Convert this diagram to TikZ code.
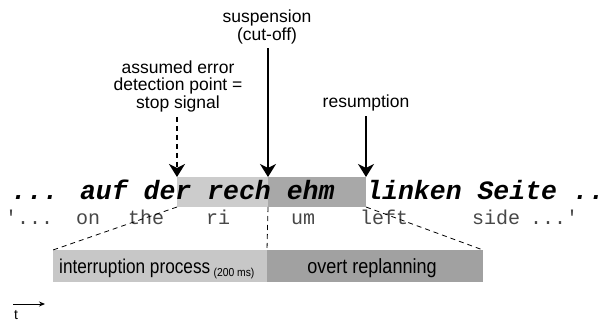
\documentclass[tikz,border=0pt]{standalone}
\usepackage{fontspec}
\setmainfont{Liberation Sans}
\newfontfamily\monofam{Liberation Mono}
\usetikzlibrary{arrows.meta}
\definecolor{hlLight}{gray}{0.80}
\definecolor{hlDark}{gray}{0.66}
\definecolor{boxLight}{gray}{0.78}
\definecolor{boxDark}{gray}{0.63}
\definecolor{glossGray}{gray}{0.28}
\begin{document}
\begin{tikzpicture}[x=1pt,y=-1pt,
  lbl/.style={font=\fontsize{17.5}{17.5}\selectfont, align=center, inner sep=0pt},
  hlrect/.style={inner sep=0pt, outer sep=0pt, minimum height=30pt, anchor=north west},
  phasebox/.style={inner sep=0pt, outer sep=0pt, minimum height=32pt, anchor=north west},
  gloss/.style={font=\monofam\fontsize{20}{24}\selectfont, text=glossGray, anchor=base west, inner sep=0pt},
  downarrow/.style={line width=1.4pt, -{Stealth[length=13pt, width=16pt, inset=4pt]}},
  stoparrow/.style={line width=2.4pt, dash pattern=on 5pt off 4pt, -{Stealth[length=13pt, width=16pt, inset=4pt]}},
  guide/.style={line width=0.8pt, dash pattern=on 5pt off 4pt},
]
\useasboundingbox (0,0) rectangle (608,322);
\clip (0,0) rectangle (608,322);

% shaded spans above the utterance
\node[hlrect, fill=hlLight, minimum width=91pt] (hlA) at (177,177) {};
\node[hlrect, fill=hlDark, minimum width=98pt] (hlB) at (268,177) {};

% utterance and its gloss
\node[anchor=base west, inner sep=0pt, font=\monofam\bfseries\itshape\fontsize{26.5}{30}\selectfont] (utt) at (11,199)
  {... auf der rech ehm\ \ linken Seite ..};
\node[gloss] (g0) at (5,224) {'...};
\node[gloss] (g1) at (76,224) {on};
\node[gloss] (g2) at (128,224) {the};
\node[gloss] (g3) at (206,224) {ri};
\node[gloss] (g4) at (291,224) {um};
\node[gloss] (g5) at (360,224) {left};
\node[gloss] (g6) at (472,224) {side};
\node[gloss] (g7) at (530,224) {...'};

% labels and arrows
\node[lbl] (susp) at (267,27) {suspension\\(cut-off)};
\node[lbl] (stop) at (178,86) {assumed error\\detection point =\\stop signal};
\node[lbl] (resu) at (366,103) {resumption};

\draw[downarrow] ([yshift=-4pt]susp.south -| hlB.north west) -- (hlB.north west);
\draw[stoparrow] ([yshift=-5pt]stop.south -| hlA.north west) -- (hlA.north west);
\draw[downarrow] ([yshift=-5pt]resu.south -| hlB.north east) -- (hlB.north east);

% phase boxes below
\node[phasebox, fill=boxLight, minimum width=214pt] (boxA) at (53,250) {};
\node[phasebox, fill=boxDark, minimum width=216pt] (boxB) at (267,250) {};
\node[anchor=base west, inner sep=0pt, font=\fontsize{20}{20}\selectfont] (txtA) at (59,273)
  {\scalebox{0.86}[1]{interruption process}\,\raisebox{-3pt}{\scalebox{0.9}[1]{\fontsize{11.5}{11.5}\selectfont (200 ms)}}};
\node[anchor=base, inner sep=0pt, font=\fontsize{20.5}{20.5}\selectfont] (txtB) at (372,273) {\scalebox{0.88}[1]{overt replanning}};

% guide lines from the spans to the boxes
\draw[guide] (hlA.south west) -- (boxA.north west);
\draw[guide] (hlB.south west) -- (boxB.north west);
\draw[guide] (hlB.south east) -- (boxB.north east);

% time axis
\coordinate (t0) at (13,304);
\coordinate (t1) at (45,304);
\draw[line width=0.9pt, -{Stealth[length=6pt, width=5pt]}] (t0) -- (t1);
\node[inner sep=0pt, font=\fontsize{14}{14}\selectfont] (tlab) at (16,315) {t};
\end{tikzpicture}
\end{document}
